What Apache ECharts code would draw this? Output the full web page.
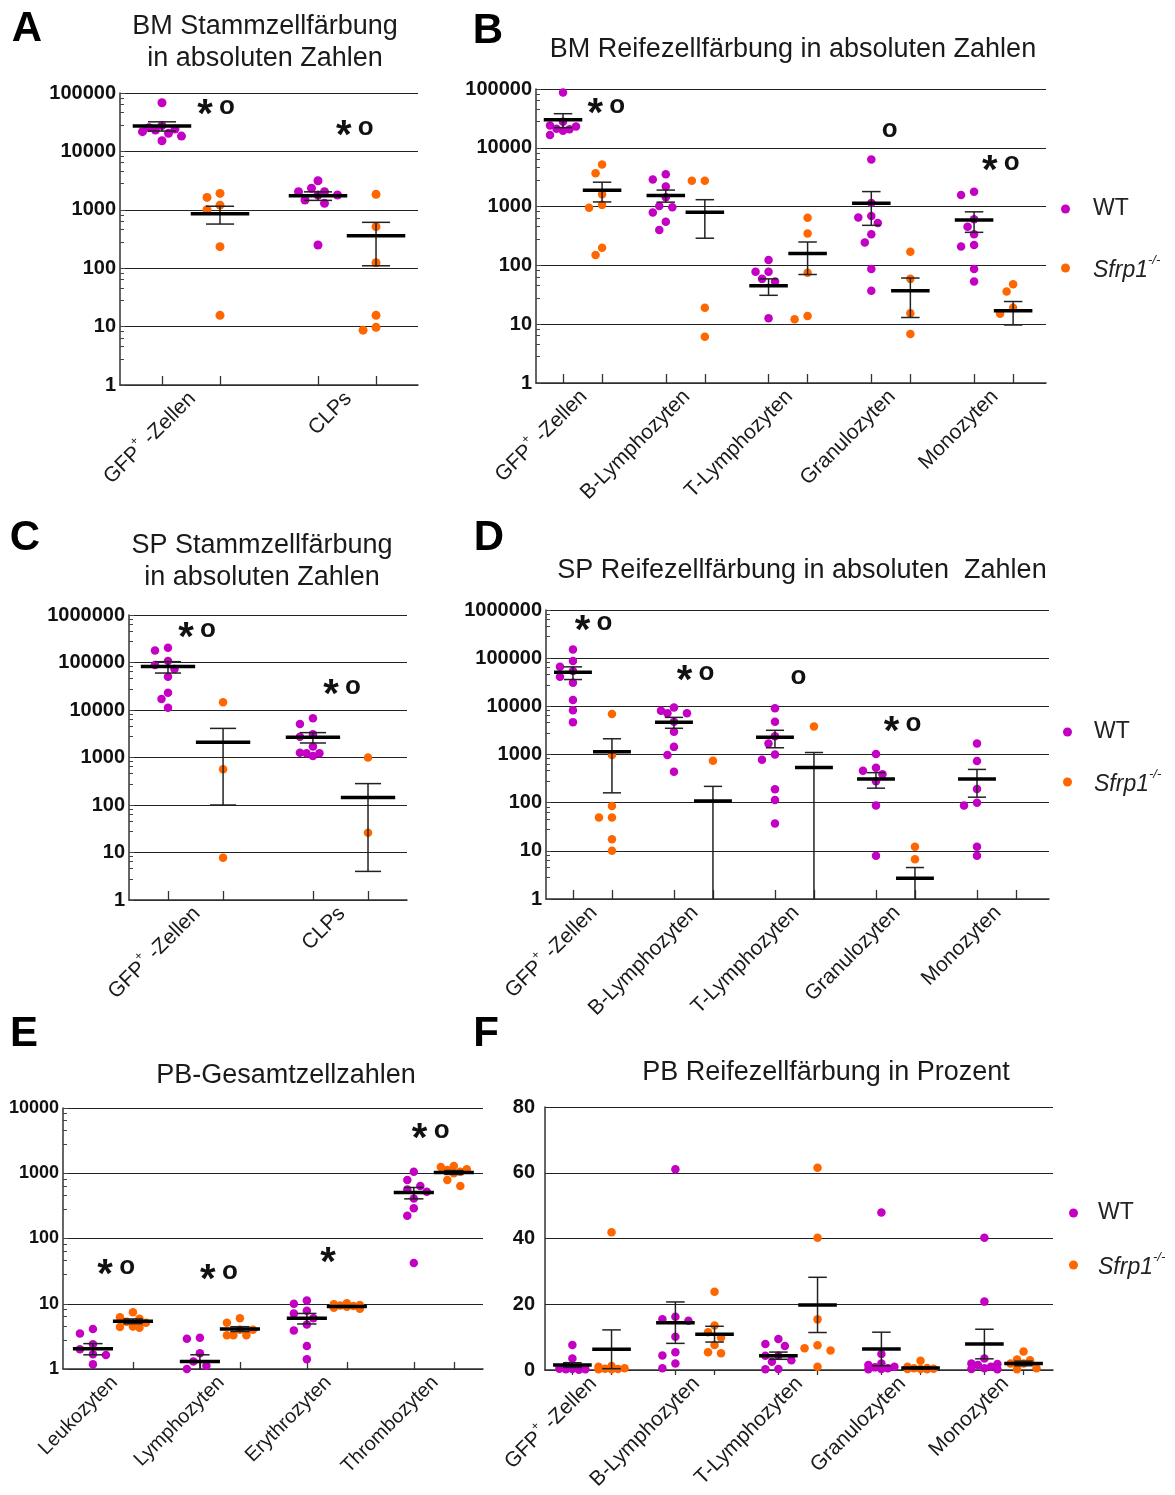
<!DOCTYPE html>
<html><head><meta charset="utf-8">
<script src="https://cdn.jsdelivr.net/npm/echarts@6/dist/echarts.min.js"></script>
<style>html,body{margin:0;padding:0;background:#fff}#c{width:1175px;height:1495px}</style>
</head><body><div id="c"></div>
<script>
// ================= DATA =================
const MATURE = ['GFP+ -Zellen', 'B-Lymphozyten', 'T-Lymphozyten', 'Granulozyten', 'Monozyten'];
const STEM = ['GFP+ -Zellen', 'CLPs'];
const PB = ['Leukozyten', 'Lymphozyten', 'Erythrozyten', 'Thrombozyten'];

const LOG5_TICKS = [1, 10, 100, 1000, 10000, 100000];
const LOG6_TICKS = [1, 10, 100, 1000, 10000, 100000, 1000000];
const LOG4_TICKS = [1, 10, 100, 1000, 10000];
const PCT_TICKS = [0, 20, 40, 60, 80];

// Panel A: BM Stammzellfärbung
const A_wt = [[68000, 25500, 20400, 23200, 27600, 21800, 18300, 24100, 15200],
              [2040, 1470, 1790, 2340, 1290, 2040, 3150, 1790, 250]];
const A_ko = [[1910, 1630, 1200, 1000, 234, 15.6],
              [1840, 515, 124, 15.6, 8.7, 9.7]];
const A_wtMean = [27200, 1740], A_wtSem = [4900, 290];
const A_koMean = [860, 360],    A_koSem = [290, 250];
const A_ann = [[0.16, 55000, '*o'], [1.05, 24000, '*o']];

// Panel B: BM Reifezellfärbung
const B_wt = [[87000, 20600, 23000, 27700, 24000, 16500, 21000, 19500],
              [3550, 2900, 2200, 1440, 975, 1020, 790, 550, 400],
              [123, 78, 78, 59, 53, 12.6],
              [6350, 1150, 650, 690, 525, 340, 245, 87, 37],
              [1580, 1790, 610, 455, 340, 223, 209, 87, 53]];
const B_ko = [[5200, 3700, 1070, 960, 1620, 150, 200],
              [2750, 2750, 19, 6.1],
              [645, 350, 75, 12.1, 13.8],
              [170, 59, 15.3, 6.8],
              [48, 36, 19, 15]];
const B_wtMean = [30000, 1550, 45, 1140, 590], B_wtSem = [8000, 360, 14, 660, 225];
const B_koMean = [1900, 800, 160, 37, 17],     B_koSem = [700, 510, 90, 24, 7.3];
const B_ann = [[0.23, 49000, '*o'], [2.99, 19400, 'o'], [4.07, 5300, '*o']];

// Panel C: SP Stammzellfärbung
const C_wt = [[178000, 205000, 107000, 89000, 73000, 50000, 23000, 17000, 11200],
              [6700, 5100, 3100, 2750, 1700, 1230, 1070, 1260, 1230]];
const C_ko = [[14500, 565, 7.8], [1000, 26]];
const C_wtMean = [82000, 2680], C_wtSem = [22000, 660];
const C_koMean = [2100, 143],   C_koSem = [2000, 139];
const C_ann = [[0.01, 460000, '*o'], [1.01, 29000, '*o']];

// Panel D: SP Reifezellfärbung
const D_wt = [[152000, 87000, 54000, 66000, 41000, 31000, 13600, 8300, 4700],
              [9500, 7200, 7200, 8100, 4800, 2960, 1440, 980, 440],
              [9100, 4800, 2400, 1700, 775, 1000, 190, 114, 37],
              [1020, 460, 530, 390, 280, 87, 7.9],
              [1700, 730, 192, 100, 87, 12.2, 7.9]];
const D_ko = [[6900, 980, 49, 49, 85, 17.4, 10],
              [740],
              [3800],
              [12.2, 6.7],
              []];
const D_wtMean = [51000, 4700, 2280, 310, 310], D_wtSem = [15000, 1200, 900, 110, 180];
const D_koMean = [1140, 108, 540, 2.7, null],   D_koSem = [980, 110, 560, 1.8, null];
const D_ann = [[0.01, 510000, '*o'], [1.02, 47000, '*o'], [2.04, 39000, 'o'], [3.07, 4100, '*o']];

// Panel E: PB-Gesamtzellzahlen
const E_wt = [[2.4, 3.5, 4.1, 1.68, 2.0, 1.64, 1.18],
              [2.9, 3.0, 1.74, 1.3, 1.0, 1.12],
              [7.1, 10, 11.2, 7.8, 3.9, 4.8, 6.0, 2.25, 1.41],
              [1050, 790, 635, 565, 520, 410, 290, 224, 42]];
const E_ko = [[7.4, 5.9, 5.3, 5.1, 4.4, 4.5, 4.3, 6.2],
              [6.0, 5.1, 3.3, 3.3, 3.3, 4.0, 4.0],
              [9.6, 9.0, 8.7, 9.4, 8.4, 9.8, 9.2, 10.2],
              [1000, 1250, 1050, 1290, 1120, 790, 635, 1150]];
const E_wtMean = [2.05, 1.3, 6.0, 505], E_wtSem = [0.4, 0.35, 1.1, 100];
const E_koMean = [5.4, 4.1, 9.1, 1030], E_koSem = [0.45, 0.35, 0.25, 70];
const E_ann = [[0.03, 35, '*o'], [0.99, 30, '*o'], [2.01, 54, '*'], [2.97, 4300, '*o']];

// Panel F: PB Reifezellfärbung in Prozent
const F_wt = [[7.6, 3.5, 0.3, 0.2, 0.5, 0.2, 0.4, 1.2, 0.1],
              [61.1, 15.4, 15.0, 16.2, 10.1, 5.4, 4.4, 2.0, 0.5],
              [7.9, 9.4, 7.3, 4.3, 4.3, 3.0, 2.5, 0.2, 0.3],
              [47.9, 4.9, 1.0, 1.5, 0.2, 0.3, 0.5, 0.8, 2.0],
              [40.2, 20.8, 3.5, 1.5, 2.0, 1.8, 0.5, 0.2, 1.0, 0.3]];
const F_ko = [[41.9, 0.2, 0.3, 1.0, 0.5, 0.2, 0.4, 1.2],
              [23.8, 13.5, 11.5, 9.9, 7.6, 5.1, 5.4],
              [61.5, 40.2, 15.4, 6.6, 5.9, 7.5, 1.0],
              [2.8, 1.0, 0.4, 0.3, 0.2, 0.5, 0.3, 0.6],
              [5.6, 2.0, 3.2, 0.5, 0.2, 2.0, 3.0]];
const F_wtMean = [1.5, 14.4, 4.35, 6.4, 7.9], F_wtSem = [0.7, 6.3, 1.1, 5.1, 4.5];
const F_koMean = [6.3, 10.9, 19.8, 0.6, 2.0], F_koSem = [5.9, 2.4, 8.4, 0.3, 0.7];
const F_ann = [];

// ================= LAYOUT / STYLE =================
const WT_COLOR = '#c300c3', KO_COLOR = '#ff6600';
const FONT = '"Liberation Sans", Arial, Helvetica, sans-serif';

const PANELS = [
  {letter:'A', lx:27, ly:29, title:'BM Stammzellfärbung\nin absoluten Zahlen', tx:265, ty:11,
   groups:STEM, ticks:LOG5_TICKS, wt:A_wt, ko:A_ko, wtMean:A_wtMean, wtSem:A_wtSem, koMean:A_koMean, koSem:A_koSem, ann:A_ann,
   grid:{left:120, top:93, width:298, height:292}, xMin:-0.455, xMax:1.455, h:0.186, lab:21, xTickInside:true, xTickLen:9, maxOff:19.5},
  {letter:'B', lx:488, ly:31, title:'BM Reifezellfärbung in absoluten Zahlen', tx:793, ty:34,
   groups:MATURE, ticks:LOG5_TICKS, wt:B_wt, ko:B_ko, wtMean:B_wtMean, wtSem:B_wtSem, koMean:B_koMean, koSem:B_koSem, ann:B_ann,
   grid:{left:536, top:89, width:510, height:294}, xMin:-0.453, xMax:4.51, h:0.19, lab:21, xTickInside:true, xTickLen:9,
   legend:{left:1056, top:190, gap:31, pad:18}},
  {letter:'C', lx:25, ly:538, title:'SP Stammzellfärbung\nin absoluten Zahlen', tx:262, ty:530,
   groups:STEM, ticks:LOG6_TICKS, wt:C_wt, ko:C_ko, wtMean:C_wtMean, wtSem:C_wtSem, koMean:C_koMean, koSem:C_koSem, ann:C_ann,
   grid:{left:129, top:615, width:278, height:285}, xMin:-0.459, xMax:1.459, h:0.19, lab:21, xTickInside:true, xTickLen:9},
  {letter:'D', lx:489, ly:538, title:'SP Reifezellfärbung in absoluten  Zahlen', tx:802, ty:555,
   groups:MATURE, ticks:LOG6_TICKS, wt:D_wt, ko:D_ko, wtMean:D_wtMean, wtSem:D_wtSem, koMean:D_koMean, koSem:D_koSem, ann:D_ann,
   grid:{left:546, top:610, width:503, height:289}, xMin:-0.46, xMax:4.52, h:0.193, lab:21, xTickInside:true, xTickLen:9,
   legend:{left:1058, top:713, gap:22, pad:17}},
  {letter:'E', lx:24, ly:1034, title:'PB-Gesamtzellzahlen', tx:286, ty:1060,
   groups:PB, ticks:LOG4_TICKS, wt:E_wt, ko:E_ko, wtMean:E_wtMean, wtSem:E_wtSem, koMean:E_koMean, koSem:E_koSem, ann:E_ann,
   grid:{left:63, top:1108, width:420, height:261}, xMin:-0.467, xMax:3.46, h:0.187, lab:20, xTickInside:true, xTickLen:7, yLab:18},
  {letter:'F', lx:486, ly:1034, title:'PB Reifezellfärbung in Prozent', tx:826, ty:1057,
   groups:MATURE, ticks:PCT_TICKS, linear:true, wt:F_wt, ko:F_ko, wtMean:F_wtMean, wtSem:F_wtSem, koMean:F_koMean, koSem:F_koSem, ann:F_ann,
   grid:{left:545, top:1107, width:508, height:263}, xMin:-0.456, xMax:4.476, h:0.19, lab:21, xTickInside:false, xTickLen:5,
   legend:{left:1064, top:1194, gap:24, pad:15}}
];

// ---------- helpers ----------
function yPixel(P, v) {
  const t = P.ticks, g = P.grid;
  let f;
  if (P.linear) f = (v - t[0]) / (t[t.length - 1] - t[0]);
  else f = (Math.log10(v) - Math.log10(t[0])) / (Math.log10(t[t.length - 1]) - Math.log10(t[0]));
  return g.top + g.height * (1 - f);
}
// simple beeswarm: spread overlapping dots sideways (pixel offsets), capped width
function swarm(P, values, step, dmin, maxOff) {
  const order = values.map((v, i) => i).sort((a, b) => values[b] - values[a]);
  const placed = [], offs = new Array(values.length).fill(0);
  for (const i of order) {
    const y = yPixel(P, values[i]);
    let best = 0, bestScore = -1, done = false;
    for (let k = 0; k < 60; k++) {
      const o = k === 0 ? 0 : (k % 2 ? -1 : 1) * Math.ceil(k / 2) * step;
      if (Math.abs(o) > maxOff) break;
      let md = Infinity;
      placed.forEach(p => { md = Math.min(md, Math.hypot(p.o - o, p.y - y)); });
      if (md >= dmin) { best = o; done = true; break; }
      if (md > bestScore) { bestScore = md; best = o; }
    }
    offs[i] = best; placed.push({o: best, y});
  }
  return offs;
}
function groupLabel(name) {
  if (name.indexOf('GFP+') === 0) return '{a|GFP}{p|+}{a| -Zellen}';
  return '{a|' + name + '}';
}

const grids = [], xAxes = [], yAxes = [], series = [], graphics = [], legends = [];

PANELS.forEach((P, i) => {
  const n = P.groups.length;
  const unitPx = P.grid.width / (P.xMax - P.xMin);
  grids.push(Object.assign({containLabel:false}, P.grid));
  const cols = [], centers = [];
  for (let g = 0; g < n; g++) { cols.push(g - P.h, g + P.h); centers.push(g); }
  xAxes.push({
    type:'value', gridIndex:i, min:P.xMin, max:P.xMax,
    axisLine:{show:true, onZero:false, lineStyle:{color:'#333', width:1.5}},
    axisTick:{show:true, inside:P.xTickInside, length:P.xTickLen, customValues:cols, lineStyle:{color:'#333', width:1.3}},
    axisLabel:{show:true, customValues:centers, rotate:45, margin:9, color:'#1a1a1a', fontFamily:FONT,
      formatter:(v) => groupLabel(P.groups[Math.round(v)]),
      rich:{a:{fontSize:P.lab, fontFamily:FONT, color:'#1a1a1a', lineHeight:P.lab + 4, verticalAlign:'bottom'},
            p:{fontSize:Math.round(P.lab * 0.55), fontFamily:FONT, color:'#1a1a1a', verticalAlign:'top', lineHeight:12}}},
    splitLine:{show:false}
  });
  const t = P.ticks;
  const yAx = {
    gridIndex:i, min:t[0], max:t[t.length - 1],
    axisLine:{show:true, onZero:false, lineStyle:{color:'#333', width:1.5}},
    axisTick:{show:!P.linear, inside:true, length:5, lineStyle:{color:'#444', width:1}},
    splitLine:{show:true, lineStyle:{color:'#222', width:1}},
    axisLabel:{fontWeight:'bold', fontSize:P.yLab || 20, color:'#111', fontFamily:FONT, margin:P.linear ? 10 : 4,
      formatter:(v) => String(Math.round(v))}
  };
  if (P.linear) { yAx.type = 'value'; yAx.interval = t[1] - t[0]; }
  else {
    yAx.type = 'log'; yAx.logBase = 10; yAx.splitNumber = t.length - 1;
    yAx.minorTick = {show:true, splitNumber:5, length:4, lineStyle:{color:'#444', width:1}};
  }
  yAxes.push(yAx);

  // dots
  const step = 6.5, dmin = 9;
  const maxOff = P.maxOff || 13;
  const dotSize = i === 0 ? 9 : 8.5;
  [['WT', P.wt, -P.h, WT_COLOR], ['Sfrp1', P.ko, P.h, KO_COLOR]].forEach(([name, arr, side, color]) => {
    const data = [];
    arr.forEach((vals, g) => {
      const offs = swarm(P, vals, step, dmin, maxOff);
      vals.forEach((v, k) => data.push([g + side + offs[k] / unitPx, v]));
    });
    series.push({type:'scatter', name, xAxisIndex:i, yAxisIndex:i, data, symbol:'circle', symbolSize:dotSize,
      itemStyle:{color, opacity:1}, z:2, silent:true, animation:false});
  });

  // mean ± SEM
  const stats = [];
  for (let g = 0; g < n; g++) {
    if (P.wtMean[g] != null) stats.push([g - P.h, P.wtMean[g], P.wtSem[g]]);
    if (P.koMean[g] != null) stats.push([g + P.h, P.koMean[g], P.koSem[g]]);
  }
  const yMin = t[0];
  series.push({
    type:'custom', name:'stats' + P.letter, xAxisIndex:i, yAxisIndex:i, data:stats, z:4, silent:true, animation:false,
    encode:{x:0, y:1},
    renderItem:(params, api) => {
      const x = api.value(0), m = api.value(1), s = api.value(2);
      const cs = params.coordSys, bottom = cs.y + cs.height;
      const c = api.coord([x, m]);
      const unit = api.coord([x + 1, m])[0] - c[0];
      const top = api.coord([x, m + s])[1];
      const lowV = m - s, clipped = lowV <= yMin;
      const low = clipped ? bottom : api.coord([x, lowV])[1];
      const hw = unit * 0.1875, cw = unit * 0.09;
      const ls = {stroke:'#222', lineWidth:1.5};
      const ch = [
        {type:'line', shape:{x1:c[0], y1:top, x2:c[0], y2:low}, style:ls},
        {type:'line', shape:{x1:c[0] - cw, y1:top, x2:c[0] + cw, y2:top}, style:ls}
      ];
      if (!clipped) ch.push({type:'line', shape:{x1:c[0] - cw, y1:low, x2:c[0] + cw, y2:low}, style:ls});
      ch.push({type:'line', shape:{x1:c[0] - hw, y1:c[1], x2:c[0] + hw, y2:c[1]}, style:{stroke:'#000', lineWidth:3.5}});
      return {type:'group', children:ch};
    }
  });

  // significance markers
  if (P.ann.length) {
    series.push({
      type:'custom', name:'sig' + P.letter, xAxisIndex:i, yAxisIndex:i, z:5, silent:true, animation:false,
      data:P.ann.map(a => [a[0], a[1]]), encode:{x:0, y:1},
      renderItem:(params, api) => {
        const p = api.coord([api.value(0), api.value(1)]);
        const txt = P.ann[params.dataIndex][2].split('');
        const gap = 22;
        return {type:'group', children: txt.map((chr, k) => {
          const cx = p[0] + (k - (txt.length - 1) / 2) * gap;
          const star = chr === '*';
          return {type:'text', x:cx, y:p[1] + (star ? 8 : -1),
            style:{text:chr, fill:'#111', font:(star ? 'bold 40px ' : 'bold 26px ') + FONT,
              align:'center', verticalAlign:'middle', textAlign:'center', textVerticalAlign:'middle'}};
        })};
      }
    });
  }

  // panel letter + title
  graphics.push({type:'text', x:P.lx, y:P.ly, silent:true,
    style:{text:P.letter, fill:'#000', font:'bold 42px ' + FONT, align:'center', verticalAlign:'middle', textAlign:'center', textVerticalAlign:'middle'}});
  graphics.push({type:'text', x:P.tx, y:P.ty, silent:true,
    style:{text:P.title, fill:'#1a1a1a', font:'27px ' + FONT, lineHeight:32, align:'center', verticalAlign:'top', textAlign:'center', textVerticalAlign:'top'}});

  if (P.legend) {
    legends.push({
      left:P.legend.left, top:P.legend.top, orient:'vertical', itemGap:P.legend.gap, selectedMode:false,
      icon:'circle', itemWidth:9, itemHeight:9, data:['WT', 'Sfrp1'],
      formatter:(name) => name === 'WT' ? '{w|WT}' : '{i|Sfrp1}{s|-/-}',
      textStyle:{padding:[0, 0, 0, P.legend.pad], lineHeight:28,
        rich:{w:{fontSize:23, fontFamily:FONT, color:'#222', lineHeight:28},
              i:{fontSize:23, fontFamily:FONT, fontStyle:'italic', color:'#222', lineHeight:28, verticalAlign:'bottom'},
              s:{fontSize:13, fontFamily:FONT, fontStyle:'italic', color:'#222', verticalAlign:'top', lineHeight:14}}}
    });
  }
});

const chart = echarts.init(document.getElementById('c'), null, {renderer:'canvas'});
chart.setOption({
  backgroundColor:'#ffffff',
  animation:false,
  grid:grids, xAxis:xAxes, yAxis:yAxes, series, legend:legends,
  graphic:graphics
});
</script>
</body></html>
